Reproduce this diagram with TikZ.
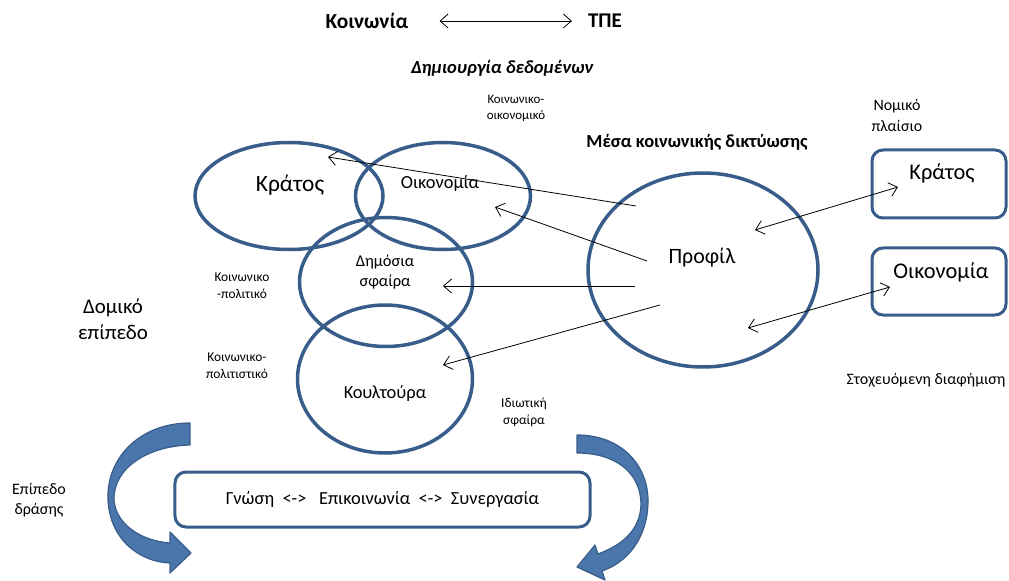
\documentclass[tikz,border=0pt]{standalone}
\usepackage{fontspec}
\setmainfont{Carlito}
\usetikzlibrary{shapes.geometric,arrows.meta,positioning}
\definecolor{shapeblue}{RGB}{56,93,138}
\definecolor{bendfill}{RGB}{74,118,172}
\newcommand{\fs}[2]{\fontsize{#1}{#2}\selectfont}
\tikzset{
  ring/.style={ellipse, draw=shapeblue, line width=3.5bp, inner sep=0pt},
  roundbox/.style={rectangle, rounded corners=11bp, draw=shapeblue, line width=3bp, inner sep=0pt},
  lbl/.style={inner sep=0pt, align=center, text=black},
  link/.style={draw=black, line width=0.8bp, -{Straight Barb[length=8bp,width=14bp]}},
  dlink/.style={link, {Straight Barb[length=8bp,width=14bp]}-{Straight Barb[length=8bp,width=14bp]}},
  turnarrow/.style={fill=bendfill, draw=shapeblue, line width=1.2bp, line join=round}
}
\begin{document}
\begin{tikzpicture}[x=1bp,y=-1bp]
\useasboundingbox (0,0) rectangle (1009,581);

% Title row
\node[lbl, font=\fs{21.5}{24}\bfseries] (society) at (367,21) {Κοινωνία};
\node[lbl, font=\fs{21}{24}\bfseries] (ict) at (605,21) {ΤΠΕ};
\draw[dlink, shorten <=31bp, shorten >=16bp] (society.east) -- (ict.west);

% Headings
\node[lbl, font=\fs{18.6}{22}\bfseries\itshape] (datagen) at (502,68) {Δημιουργία δεδομένων};
\node[lbl, font=\fs{13}{16}] (socecon) at (516,108) {Κοινωνικο-\\οικονομικό};
\node[lbl, font=\fs{16}{21}] (legal) at (897,115) {Νομικό\\πλαίσιο};
\node[lbl, font=\fs{18.5}{20}\bfseries] (smedia) at (697,142) {Μέσα κοινωνικής δικτύωσης};

% Overlapping spheres
\node[ring, minimum width=188bp, minimum height=107bp] (state) at (289,196) {};
\node[ring, minimum width=175bp, minimum height=107bp] (economy) at (443,196) {};
\node[ring, minimum width=173bp, minimum height=129bp] (public) at (386,282) {};
\node[ring, minimum width=175bp, minimum height=148bp] (culture) at (385,379) {};
\node[lbl, font=\fs{23.5}{26}] (stateTxt) at (290,185) {Κράτος};
\node[lbl, font=\fs{18.5}{20}] (economyTxt) at (440,183) {Οικονομία};
\node[lbl, font=\fs{16.5}{20}] (publicTxt) at (385,272) {Δημόσια\\σφαίρα};
\node[lbl, font=\fs{18.5}{22}] (cultureTxt) at (385,393) {Κουλτούρα};

% Profile
\node[ring, minimum width=230bp, minimum height=194bp] (profile) at (703,270) {};
\node[lbl, font=\fs{22}{24}] (profileTxt) at (702,258) {Προφίλ};

% Boxes on the right
\node[roundbox, minimum width=134bp, minimum height=68bp] (stateBox) at (939,184) {};
\node[lbl, font=\fs{22.5}{26}] (stateBoxTxt) at (942,173) {Κράτος};
\node[roundbox, minimum width=134bp, minimum height=67bp] (econBox) at (939,281.5) {};
\node[lbl, font=\fs{22.5}{24}] (econBoxTxt) at (941,272) {Οικονομία};
\node[lbl, font=\fs{16}{18}] (adverts) at (926,380) {Στοχευόμενη διαφήμιση};

% Side labels
\node[lbl, font=\fs{21}{26}] (structural) at (113,319) {Δομικό\\επίπεδο};
\node[lbl, font=\fs{13.5}{17}] (sociopol) at (242,286) {Κοινωνικο\\-πολιτικό};
\node[lbl, font=\fs{13.5}{17}] (sociocult) at (237,366) {Κοινωνικο-\\πολιτιστικό};
\node[lbl, font=\fs{13.5}{17}] (private) at (524,412) {Ιδιωτική\\σφαίρα};
\node[lbl, font=\fs{16}{20}] (actlevel) at (39,500) {Επίπεδο\\δράσης};

% Arrow ends
\coordinate (p1) at (636,206); \coordinate (e1) at (328,157);
\coordinate (p2) at (647,261); \coordinate (e2) at (495,207);
\coordinate (p3) at (635,286); \coordinate (e3) at (443,286);
\coordinate (p4) at (660,305); \coordinate (e4) at (443,365);
\coordinate (q1) at (755,230); \coordinate (b1) at (898,187);
\coordinate (q2) at (748,328); \coordinate (b2) at (890,287);

\draw[link] (p1) -- (e1);
\draw[link] (p2) -- (e2);
\draw[link] (p3) -- (e3);
\draw[link] (p4) -- (e4);
\draw[dlink] (q1) -- (b1);
\draw[dlink] (q2) -- (b2);

% Action level
\node[roundbox, minimum width=415bp, minimum height=55bp, font=\fs{18.5}{20}] (action) at (382.5,499.5)
  {Γνώση\ \ <->\ \ \ Επικοινωνία\ \ <->\ \ Συνεργασία};

% Curved arrows
\filldraw[turnarrow] (190,423) .. controls (140,423) and (106,458) .. (108,500)
  .. controls (110,540) and (140,562) .. (170,563)
  -- (170,573) -- (191,553) -- (170,532) -- (170,543)
  .. controls (142,541) and (116,525) .. (114,500)
  .. controls (113,468) and (148,446) .. (190,445) -- cycle;
\filldraw[turnarrow] (577,435) .. controls (622,435) and (649,466) .. (648,503)
  .. controls (647,538) and (628,562) .. (602,571)
  -- (605,580) -- (577,567) -- (595,545) -- (598,554)
  .. controls (622,545) and (641,530) .. (641,503)
  .. controls (640,472) and (615,453) .. (577,453) -- cycle;

\end{tikzpicture}
\end{document}
